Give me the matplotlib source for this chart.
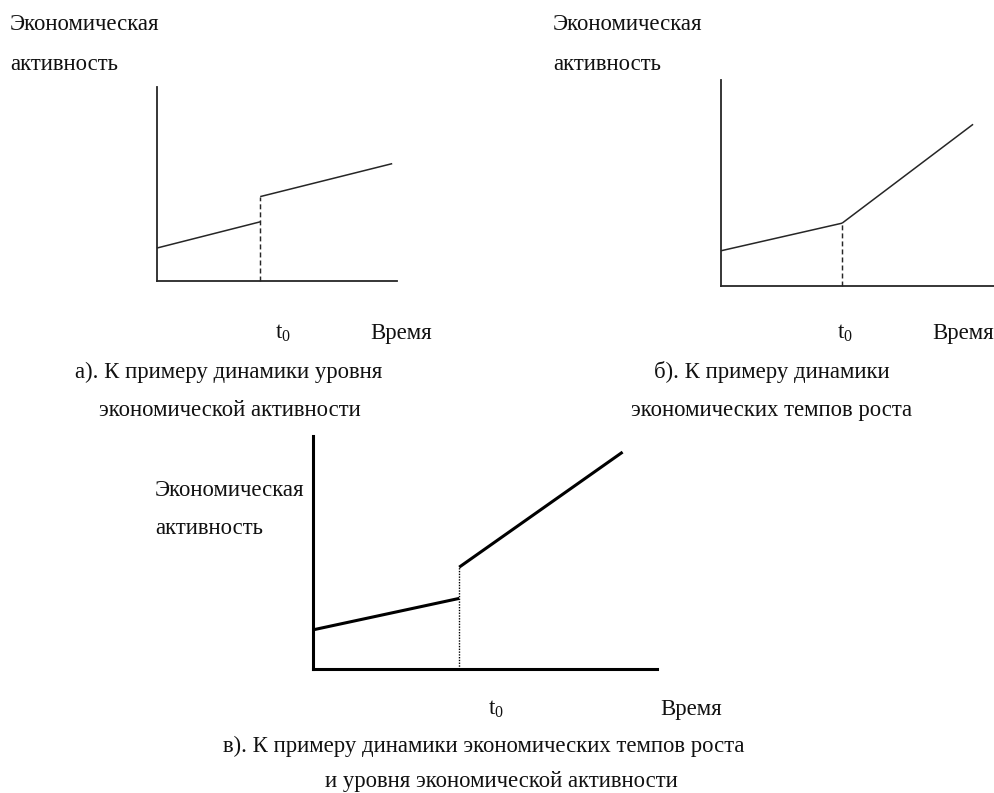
import matplotlib
matplotlib.use("Agg")
import matplotlib.pyplot as plt

plt.rcParams['font.family'] = ['Liberation Serif', 'DejaVu Serif']
plt.rcParams['mathtext.fontset'] = 'custom'
plt.rcParams['mathtext.rm'] = 'Liberation Serif'
plt.rcParams['mathtext.it'] = 'Liberation Serif'

W, H = 995, 793

# ---- data (arbitrary units: time 0..10, activity 0..10) ----
y_label_1 = "Экономическая"
y_label_2 = "активность"
x_label = "Время"
t0_label = r"$\mathrm{t}_0$"

# panel a: jump in level at t0, same growth rate
a_t0 = 4.3
a_before_t = [0.0, 4.3]
a_before_y = [1.70, 3.05]
a_after_t = [4.3, 9.8]
a_after_y = [4.35, 6.05]
a_caption = ["а). К примеру динамики уровня", "экономической активности"]

# panel b: change of growth rate at t0
b_t0 = 4.42
b_before_t = [0.0, 4.42]
b_before_y = [1.71, 3.05]
b_after_t = [4.42, 9.2]
b_after_y = [3.05, 7.85]
b_caption = ["б). К примеру динамики", "экономических темпов роста"]

# panel c: jump in level and change of growth rate
c_t0 = 4.25
c_before_t = [0.0, 4.25]
c_before_y = [1.68, 3.03]
c_after_t = [4.25, 9.0]
c_after_y = [4.37, 9.31]
c_caption = ["в). К примеру динамики экономических темпов роста",
             "и уровня экономической активности"]

FS = 16.4
DY = 3

fig = plt.figure(figsize=(W / 100, H / 100), dpi=100)
fig.patch.set_facecolor('white')


def px_axes(left, right, top, bottom):
    return fig.add_axes([left / W, 1 - bottom / H, (right - left) / W, (bottom - top) / H])


def txt(x, y, s, ha='left', size=FS):
    fig.text(x / W, 1 - (y + DY) / H, s, ha=ha, va='center', fontsize=size, color='#111111')


def panel(rect, t0, bt, by, at, ay, lw_line, lw_axis, vstyle, vlw, color, vtop):
    ax = px_axes(*rect)
    ax.set_xlim(0, 10)
    ax.set_ylim(0, 10)
    for s in ['top', 'right']:
        ax.spines[s].set_visible(False)
    for s in ['left', 'bottom']:
        ax.spines[s].set_linewidth(lw_axis)
        ax.spines[s].set_color(color)
    ax.set_xticks([])
    ax.set_yticks([])
    ax.patch.set_alpha(0)
    ax.plot(bt, by, color=color, lw=lw_line, clip_on=False, solid_capstyle='butt')
    ax.plot(at, ay, color=color, lw=lw_line, clip_on=False, solid_capstyle='butt')
    ax.plot([t0, t0], [0, vtop], color=color, lw=vlw, linestyle=vstyle, clip_on=False)
    return ax


# panel a
panel((157, 397, 87, 281), a_t0, a_before_t, a_before_y, a_after_t, a_after_y,
      1.1, 1.3, (0, (3.4, 2.1)), 1.05, '#262626', max(a_before_y[-1], a_after_y[0]))
txt(10, 22, y_label_1)
txt(10, 61, y_label_2)
txt(275, 330, t0_label)
txt(370, 330, x_label)
txt(229, 369, a_caption[0], ha='center')
txt(230, 408, a_caption[1], ha='center')

# panel b
panel((721, 995, 80, 286), b_t0, b_before_t, b_before_y, b_after_t, b_after_y,
      1.1, 1.3, (0, (3.4, 2.1)), 1.05, '#262626', b_before_y[-1])
txt(553, 22, y_label_1)
txt(553, 61, y_label_2)
txt(837, 330, t0_label)
txt(932, 330, x_label)
txt(772, 369, b_caption[0], ha='center')
txt(772, 408, b_caption[1], ha='center')

# panel c
panel((313, 657, 436, 669), c_t0, c_before_t, c_before_y, c_after_t, c_after_y,
      2.2, 2.2, (0, (1, 1)), 1.0, '#000000', c_after_y[0])
txt(155, 487, y_label_1)
txt(155, 526, y_label_2)
txt(488, 706, t0_label)
txt(660, 706, x_label)
txt(484, 743, c_caption[0], ha='center')
txt(501, 779, c_caption[1], ha='center')

fig.savefig("out.png", dpi=100, facecolor='white')
